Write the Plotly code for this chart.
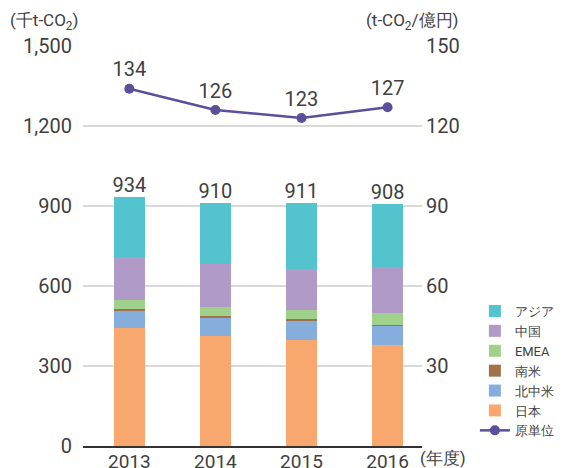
import plotly.graph_objects as go

years = ["2013", "2014", "2015", "2016"]

# 排出量 (千t-CO2) 地域別
japan = [442, 412, 397, 377]
north_america = [63, 70, 74, 75]
south_america = [8, 5, 4, 1]
emea = [34, 33, 34, 45]
china = [162, 162, 154, 172]
asia = [225, 228, 248, 238]
totals = [934, 910, 911, 908]

# 原単位 (t-CO2/億円)
intensity = [134, 126, 123, 127]

series = [
    ("日本", japan, "#F8A86E"),
    ("北中米", north_america, "#85AEDD"),
    ("南米", south_america, "#A0714A"),
    ("EMEA", emea, "#9FD18A"),
    ("中国", china, "#B09AC8"),
    ("アジア", asia, "#53C4CD"),
]

FONT = "Roboto"
TXT = "#404040"

fig = go.Figure()

# 積み上げ棒 (下から)、凡例は上から アジア → 日本
for i, (name, vals, color) in enumerate(series):
    fig.add_trace(go.Bar(
        x=years, y=vals, name=name,
        marker=dict(color=color, line=dict(width=0)),
        width=0.36,
        legendrank=10 - i,
    ))

# 合計ラベル
fig.add_trace(go.Scatter(
    x=years, y=totals, mode="text",
    text=[str(v) for v in totals], textposition="top center",
    textfont=dict(size=20, color=TXT, family=FONT),
    showlegend=False, hoverinfo="skip",
))

# 原単位の折れ線
fig.add_trace(go.Scatter(
    x=years, y=intensity, name="原単位", yaxis="y2",
    mode="lines+markers+text",
    text=[str(v) for v in intensity], textposition="top center",
    textfont=dict(size=20, color=TXT, family=FONT),
    line=dict(color="#5B4F9C", width=2.5),
    marker=dict(color="#5B4F9C", size=10),
    legendrank=20,
))

fig.update_layout(
    width=568, height=468,
    margin=dict(l=75, r=154, t=38, b=30, autoexpand=False),
    plot_bgcolor="white", paper_bgcolor="white",
    barmode="stack", bargap=0.6,
    font=dict(family=FONT, color=TXT, size=20),
    xaxis=dict(
        range=[-0.538, 3.40], showgrid=False,
        showline=True, linecolor="#333333", linewidth=1.5,
        ticks="", tickfont=dict(size=19, color=TXT), ticklabelstandoff=-3,
    ),
    yaxis=dict(
        range=[0, 1500], tickvals=[0, 300, 600, 900, 1200, 1500],
        tickformat=",d", gridcolor="#D9D9D9", gridwidth=1.5,
        zeroline=False, ticks="", ticklabelstandoff=10,
        tickfont=dict(size=20, color=TXT),
    ),
    yaxis2=dict(
        range=[0, 150], tickvals=[30, 60, 90, 120, 150],
        overlaying="y", side="right", showgrid=False, zeroline=False,
        ticks="", ticklabelstandoff=3, tickfont=dict(size=20, color=TXT),
    ),
    legend=dict(
        x=1.156, y=0.375, xanchor="left", yanchor="top",
        traceorder="normal",
        font=dict(size=13, color=TXT), bgcolor="rgba(0,0,0,0)",
        tracegroupgap=0, itemwidth=30,
    ),
    annotations=[
        dict(text="(千t-CO<sub>2</sub>)", xref="paper", yref="paper",
             x=-0.221, y=1.06, xanchor="left", yanchor="middle",
             showarrow=False, font=dict(size=17, color=TXT)),
        dict(text="(t-CO<sub>2</sub>/億円)", xref="paper", yref="paper",
             x=0.83, y=1.06, xanchor="left", yanchor="middle",
             showarrow=False, font=dict(size=17, color=TXT)),
        dict(text="(年度)", xref="paper", yref="paper",
             x=0.988, y=0.0, xanchor="left", yanchor="top",
             showarrow=False, font=dict(size=17, color=TXT)),
    ],
)

fig.write_html("out.html")
